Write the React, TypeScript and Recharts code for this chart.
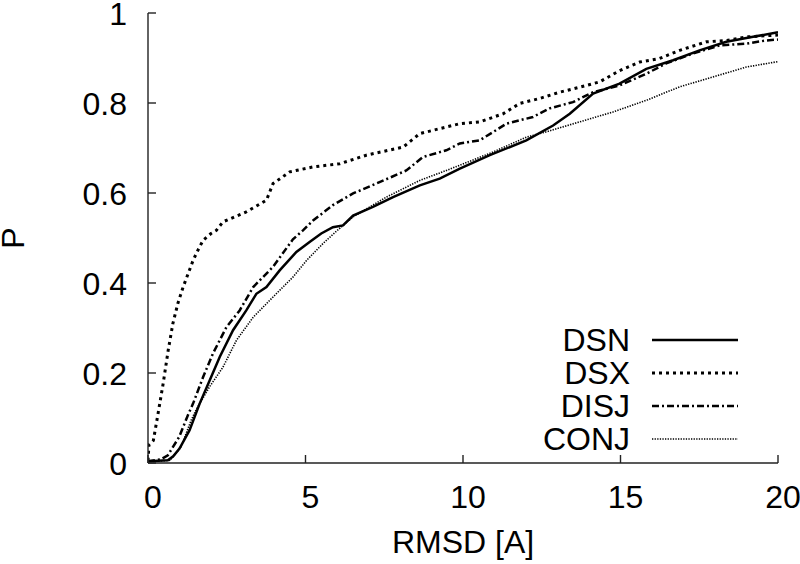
import { LineChart, Line, XAxis, YAxis, Legend } from 'recharts';

const FONT = '"Liberation Sans", Arial, Helvetica, sans-serif';

const xTicks = [0, 5, 10, 15, 20];
const yTicks = [0, 0.2, 0.4, 0.6, 0.8, 1];

// [RMSD, P]
const dsn: [number, number][] = [
  [0, 0.004], [0.63, 0.006], [0.8, 0.015], [1.0, 0.032], [1.32, 0.073], [1.64, 0.132],
  [1.96, 0.184], [2.28, 0.236], [2.7, 0.295], [3.12, 0.339], [3.44, 0.376], [3.76, 0.391],
  [4.18, 0.428], [4.71, 0.469], [5.13, 0.491], [5.5, 0.51], [5.87, 0.524], [6.19, 0.528],
  [6.51, 0.55], [7.14, 0.569], [7.78, 0.591], [8.63, 0.617], [9.26, 0.632], [9.9, 0.654],
  [10.85, 0.684], [12.01, 0.717], [12.86, 0.75], [13.39, 0.776], [14.13, 0.821], [14.97, 0.843],
  [15.82, 0.876], [16.67, 0.895], [17.51, 0.917], [18.36, 0.936], [19.21, 0.947], [20, 0.957],
];

const dsx: [number, number][] = [
  [0, 0.005], [0.03, 0.04], [0.17, 0.05], [0.32, 0.11], [0.48, 0.176], [0.64, 0.25],
  [0.79, 0.31], [0.95, 0.355], [1.11, 0.39], [1.27, 0.42], [1.43, 0.45], [1.6, 0.475],
  [1.75, 0.495], [2.0, 0.51], [2.17, 0.517], [2.38, 0.536], [3.12, 0.558], [3.76, 0.584],
  [3.97, 0.621], [4.5, 0.647], [5.24, 0.658], [6.09, 0.665], [6.93, 0.684], [8.1, 0.702],
  [8.63, 0.732], [9.26, 0.743], [9.9, 0.754], [10.53, 0.758], [11.27, 0.776], [11.8, 0.799],
  [12.43, 0.81], [13.07, 0.824], [13.92, 0.839], [14.34, 0.847], [14.97, 0.872], [15.61, 0.891],
  [16.24, 0.899], [16.88, 0.917], [17.73, 0.936], [18.36, 0.939], [19.0, 0.947], [20, 0.951],
];

const disj: [number, number][] = [
  [0, 0.004], [0.4, 0.008], [0.63, 0.017], [0.99, 0.058], [1.26, 0.105], [1.43, 0.132],
  [1.75, 0.191], [2.06, 0.243], [2.49, 0.302], [2.91, 0.339], [3.34, 0.391], [3.97, 0.436],
  [4.6, 0.497], [4.92, 0.517], [5.24, 0.539], [5.87, 0.573], [6.51, 0.599], [7.35, 0.624],
  [8.2, 0.65], [8.73, 0.68], [9.47, 0.695], [9.9, 0.71], [10.53, 0.717], [11.38, 0.754],
  [12.22, 0.769], [12.75, 0.788], [13.49, 0.802], [14.13, 0.824], [14.97, 0.839], [15.82, 0.865],
  [16.45, 0.888], [17.3, 0.91], [18.15, 0.928], [19.0, 0.932], [19.63, 0.939], [20, 0.941],
];

const conj: [number, number][] = [
  [0, 0.003], [0.7, 0.006], [1.05, 0.036], [1.37, 0.095], [1.54, 0.12], [1.96, 0.17],
  [2.38, 0.213], [2.81, 0.273], [3.34, 0.324], [3.97, 0.369], [4.6, 0.413], [5.03, 0.45],
  [5.56, 0.488], [5.98, 0.515], [6.51, 0.547], [7.57, 0.591], [8.63, 0.628], [9.47, 0.65],
  [10.16, 0.669], [10.95, 0.691], [12.01, 0.724], [12.65, 0.736], [13.7, 0.758], [14.76, 0.78],
  [15.82, 0.806], [16.88, 0.836], [17.94, 0.858], [19.0, 0.88], [20, 0.892],
];

const toRows = (pts: [number, number][]) => pts.map(([x, p]) => ({ x, p }));

const series = [
  { name: 'DSN', data: toRows(dsn), width: 2.5, dash: undefined as string | undefined },
  { name: 'DSX', data: toRows(dsx), width: 3, dash: '3 4' },
  { name: 'DISJ', data: toRows(disj), width: 2.5, dash: '7 3 2 3' },
  { name: 'CONJ', data: toRows(conj), width: 1.6, dash: '1.3 1.3' },
];

const axisStyle = { stroke: '#222', strokeWidth: 1.4 };

const BottomTick = ({ x, y, payload }: any) => (
  <g>
    <line x1={x} y1={y} x2={x} y2={y - 8} stroke="#222" strokeWidth={1.4} />
    <text x={x + 5} y={y + 45} textAnchor="middle" fontSize={32} fontFamily={FONT} fill="#000">
      {payload.value}
    </text>
  </g>
);

const TopTick = ({ x, y }: any) => (
  <line x1={x} y1={y} x2={x} y2={y + 8} stroke="#222" strokeWidth={1.4} />
);

const LeftTick = ({ x, y, payload }: any) => (
  <g>
    <line x1={x} y1={y} x2={x + 8} y2={y} stroke="#222" strokeWidth={1.4} />
    <text x={x - 21} y={y + 12} textAnchor="end" fontSize={32} fontFamily={FONT} fill="#000">
      {payload.value}
    </text>
  </g>
);

const RightTick = ({ x, y }: any) => (
  <line x1={x} y1={y} x2={x - 8} y2={y} stroke="#222" strokeWidth={1.4} />
);

const LegendBox = () => (
  <svg width={260} height={150} style={{ display: 'block' }}>
    {series.map((s, i) => (
      <g key={s.name}>
        <text
          x={90}
          y={31 + i * 33}
          textAnchor="end"
          fontSize={32}
          fontFamily={FONT}
          fill="#000"
        >
          {s.name}
        </text>
        <line
          x1={112}
          x2={198}
          y1={20 + i * 33}
          y2={20 + i * 33}
          stroke="#000"
          strokeWidth={s.width}
          strokeDasharray={s.dash}
        />
      </g>
    ))}
  </svg>
);

export default function App() {
  return (
    <div style={{ position: 'absolute', left: 0, top: 0, background: '#fff' }}>
      <LineChart width={800} height={564} margin={{ top: 13, right: 22, bottom: 0, left: 0 }}>
        <XAxis
          dataKey="x"
          type="number"
          domain={[0, 20]}
          ticks={xTicks}
          height={101}
          tickSize={0}
          tickMargin={0}
          tickLine={false}
          axisLine={axisStyle}
          tick={<BottomTick />}
          allowDataOverflow
          label={{
            content: ({ viewBox }: any) => (
              <text
                x={viewBox.x + viewBox.width / 2}
                y={viewBox.y + 90}
                textAnchor="middle"
                fontSize={32}
                fontFamily={FONT}
                fill="#000"
              >
                RMSD [A]
              </text>
            ),
          }}
        />
        <XAxis
          xAxisId="top"
          orientation="top"
          dataKey="x"
          type="number"
          domain={[0, 20]}
          ticks={xTicks}
          height={0}
          tickSize={0}
          tickMargin={0}
          tickLine={false}
          axisLine={axisStyle}
          tick={<TopTick />}
        />
        <YAxis
          type="number"
          domain={[0, 1]}
          ticks={yTicks}
          width={148}
          tickSize={0}
          tickMargin={0}
          tickLine={false}
          axisLine={axisStyle}
          tick={<LeftTick />}
          allowDataOverflow
          label={{
            content: ({ viewBox }: any) => {
              const cy = viewBox.y + viewBox.height / 2;
              return (
                <text
                  x={24}
                  y={cy}
                  transform={`rotate(-90, 24, ${cy})`}
                  textAnchor="middle"
                  fontSize={32}
                  fontFamily={FONT}
                  fill="#000"
                >
                  P
                </text>
              );
            },
          }}
        />
        <YAxis
          yAxisId="right"
          orientation="right"
          type="number"
          domain={[0, 1]}
          ticks={yTicks}
          width={0}
          tickSize={0}
          tickMargin={0}
          tickLine={false}
          axisLine={axisStyle}
          tick={<RightTick />}
        />
        <Legend
          layout="horizontal"
          verticalAlign="middle"
          align="center"
          wrapperStyle={{ position: 'absolute', left: 540, top: 320, width: 260, height: 150 }}
          content={() => <LegendBox />}
        />
        {series.map((s) => (
          <Line
            key={s.name}
            name={s.name}
            data={s.data}
            dataKey="p"
            type="linear"
            stroke="#000"
            strokeWidth={s.width}
            strokeDasharray={s.dash}
            dot={false}
            activeDot={false}
            isAnimationActive={false}
          />
        ))}
      </LineChart>
    </div>
  );
}
